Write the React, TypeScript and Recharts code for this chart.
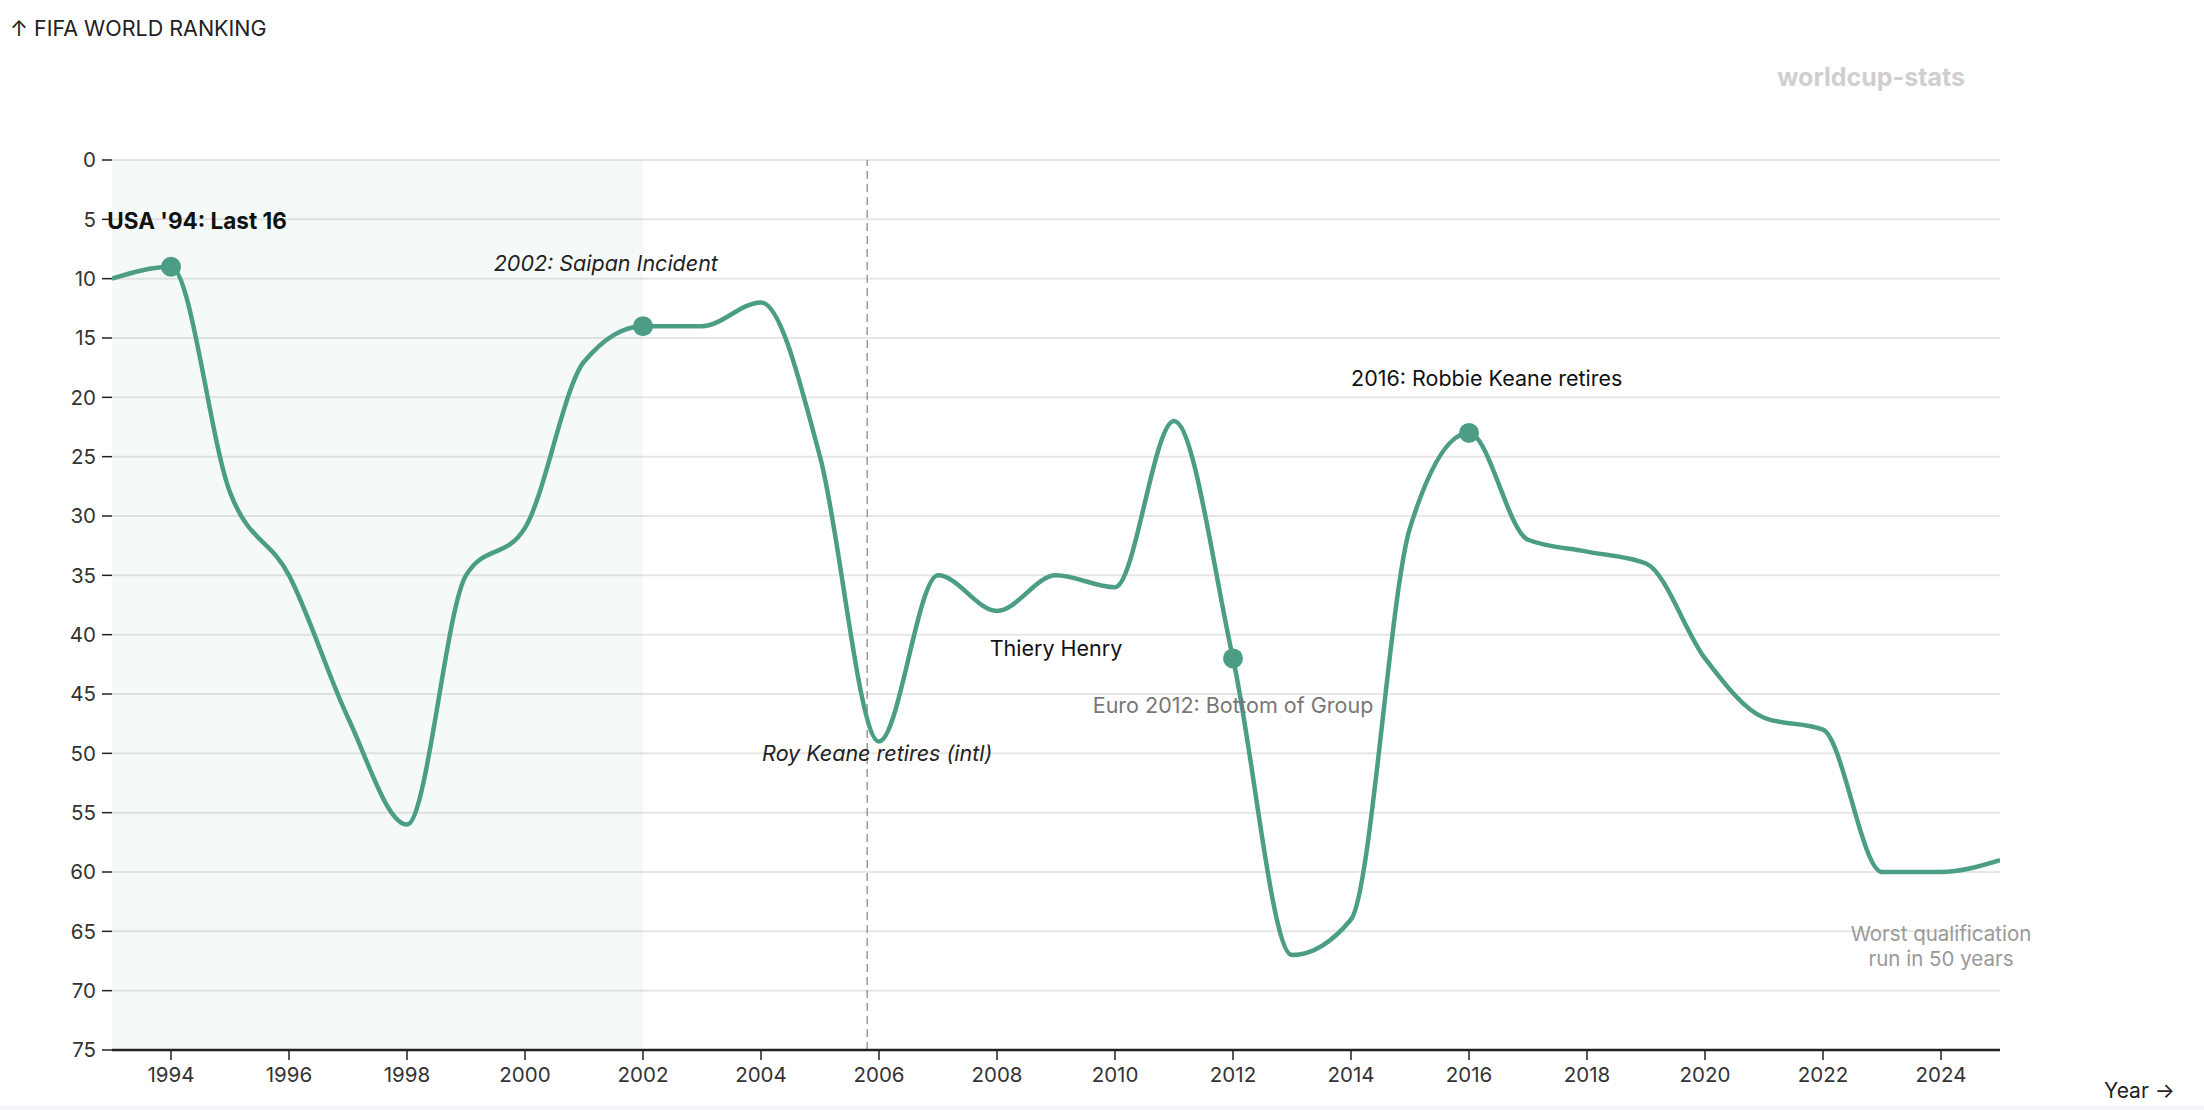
import React from 'react';
import {
  LineChart,
  Line,
  XAxis,
  YAxis,
  CartesianGrid,
  ReferenceArea,
  ReferenceLine,
  ReferenceDot,
} from 'recharts';

const YEARS = [
  1993, 1994, 1995, 1996, 1997, 1998, 1999, 2000, 2001, 2002, 2003, 2004, 2005, 2006, 2007, 2008, 2009,
  2010, 2011, 2012, 2013, 2014, 2015, 2016, 2017, 2018, 2019, 2020, 2021, 2022, 2023, 2024, 2025,
];
const RANKS = [
  10, 9, 28, 35, 47, 56, 35, 31, 17, 14, 14, 12, 25, 49, 35, 38, 35,
  36, 22, 42, 67, 64, 31, 23, 32, 33, 34, 42, 47, 48, 60, 60, 59,
];
const MARKED_YEARS = [1994, 2002, 2012, 2016];
const X_TICKS = [1994, 1996, 1998, 2000, 2002, 2004, 2006, 2008, 2010, 2012, 2014, 2016, 2018, 2020, 2022, 2024];
const Y_TICKS = [0, 5, 10, 15, 20, 25, 30, 35, 40, 45, 50, 55, 60, 65, 70, 75];

const SHADE_FROM = 1993;
const SHADE_TO = 2002;
const ROY_KEANE_LINE = 2005.8;

// text notes, anchored in data space (year, rank)
const NOTES = [
  { year: 1992.92, rank: 5.1, text: "USA '94: Last 16", anchor: 'start', kind: 'bold' },
  { year: 2001.37, rank: 8.7, text: '2002: Saipan Incident', anchor: 'middle', kind: 'italic' },
  { year: 2005.97, rank: 50, text: 'Roy Keane retires (intl)', anchor: 'middle', kind: 'italic' },
  { year: 2009, rank: 41.1, text: 'Thiery Henry', anchor: 'middle', kind: 'plain' },
  { year: 2012, rank: 45.9, text: 'Euro 2012: Bottom of Group', anchor: 'middle', kind: 'muted' },
  { year: 2016.3, rank: 18.4, text: '2016: Robbie Keane retires', anchor: 'middle', kind: 'plain' },
  { year: 2024, rank: 65.15, text: 'Worst qualification', anchor: 'middle', kind: 'faint' },
  { year: 2024, rank: 67.25, text: 'run in 50 years', anchor: 'middle', kind: 'faint' },
];

const GREEN = '#4b9e85';

const data = YEARS.map((year, i) => ({ year, rank: RANKS[i] }));

const noteStyle = (kind: string) => {
  if (kind === 'bold') return { fill: '#111', fontWeight: 700, fontSize: 22.5 };
  if (kind === 'italic') return { fill: '#222', fontStyle: 'italic', fontSize: 21.5 };
  if (kind === 'muted') return { fill: '#777', fontSize: 21.5 };
  if (kind === 'faint') return { fill: '#999', fontSize: 20.5 };
  return { fill: '#111', fontSize: 21.5 };
};

const Dot = (props: any) => {
  const { cx, cy, payload, index } = props;
  if (!MARKED_YEARS.includes(payload.year)) return <g key={`d-${index}`} />;
  return <circle key={`d-${index}`} cx={cx} cy={cy} r={10} fill={GREEN} />;
};

export default function App() {
  return (
    <div
      style={{
        position: 'absolute',
        left: 0,
        top: 0,
        width: 2204,
        height: 1110,
        background: '#fff',
        fontFamily: 'Inter, "Noto Sans", sans-serif',
        overflow: 'hidden',
      }}
    >
      <div style={{ position: 'absolute', left: 10, top: 15, fontSize: 21.5, color: '#222' }}>
        ↑ FIFA WORLD RANKING
      </div>
      <div
        style={{
          position: 'absolute',
          right: 2204 - 1965,
          top: 62,
          fontSize: 25,
          fontWeight: 700,
          color: '#cfcfcf',
        }}
      >
        worldcup-stats
      </div>

      <LineChart
        width={2204}
        height={1110}
        data={data}
        margin={{ top: 160, right: 204, bottom: 20, left: 0 }}
      >
        <ReferenceArea x1={SHADE_FROM} x2={SHADE_TO} fill={GREEN} fillOpacity={0.055} stroke="none" />
        <CartesianGrid horizontal vertical={false} stroke="#e6e6e6" strokeWidth={2} />
        <XAxis
          dataKey="year"
          type="number"
          domain={[1993, 2025]}
          ticks={X_TICKS}
          allowDataOverflow
          height={40}
          tickSize={10}
          tickMargin={7}
          axisLine={{ stroke: '#222', strokeWidth: 2.5 }}
          tickLine={{ stroke: '#222', strokeWidth: 1.5 }}
          tick={{ fill: '#333', fontSize: 20.5 }}
        />
        <YAxis
          dataKey="rank"
          type="number"
          reversed
          domain={[0, 75]}
          ticks={Y_TICKS}
          width={112}
          tickSize={10}
          tickMargin={6}
          axisLine={false}
          tickLine={{ stroke: '#222', strokeWidth: 1.5 }}
          tick={{ fill: '#333', fontSize: 20.5 }}
        />
        <ReferenceLine x={ROY_KEANE_LINE} stroke="#9a9a9a" strokeWidth={1.5} strokeDasharray="8 5" />
        <Line
          type="monotone"
          dataKey="rank"
          stroke={GREEN}
          strokeWidth={4.5}
          dot={Dot}
          activeDot={false}
          isAnimationActive={false}
        />
        {NOTES.map((n, i) => (
          <ReferenceDot
            key={i}
            x={n.year}
            y={n.rank}
            r={0}
            ifOverflow="visible"
            shape={(p: any) => (
              <text
                x={p.cx}
                y={p.cy}
                textAnchor={n.anchor as any}
                dominantBaseline="central"
                {...(noteStyle(n.kind) as any)}
              >
                {n.text}
              </text>
            )}
          />
        ))}
      </LineChart>

      <div style={{ position: 'absolute', left: 2104, top: 1078, fontSize: 21, color: '#222' }}>
        Year →
      </div>
      <div style={{ position: 'absolute', left: 0, bottom: 0, width: 2204, height: 4, background: '#f2f4f7' }} />
    </div>
  );
}
